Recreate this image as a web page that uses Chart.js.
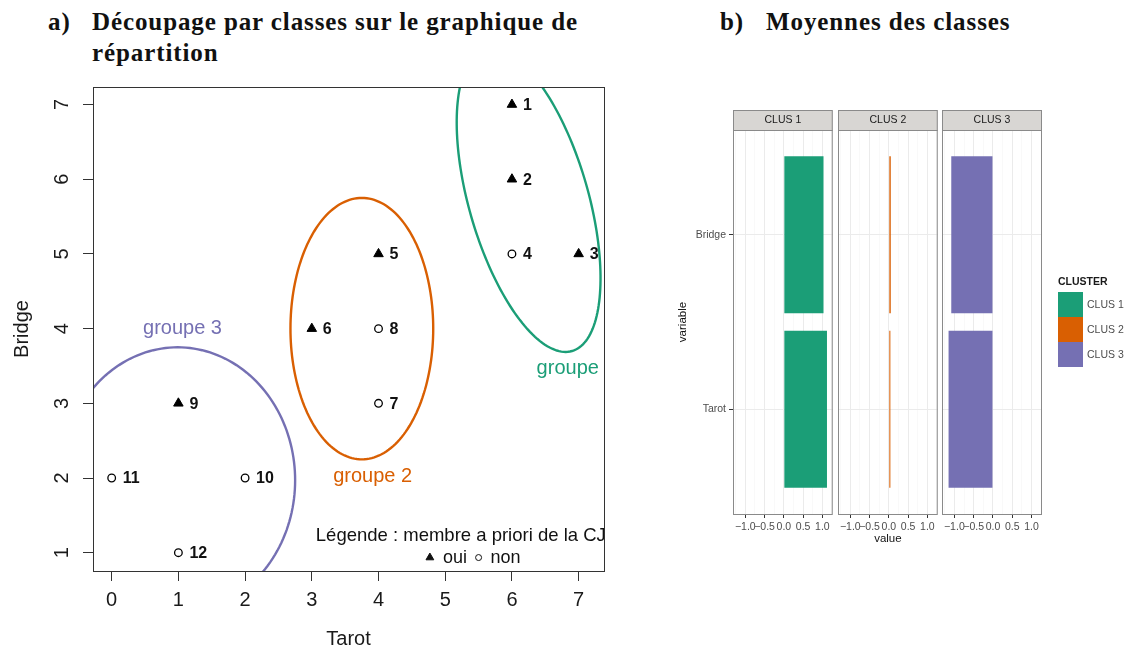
<!DOCTYPE html>
<html>
<head>
<meta charset="utf-8">
<script src="https://cdn.jsdelivr.net/npm/chart.js"></script>
<style>
  body { margin:0; background:#fff; width:1126px; height:649px; position:relative; overflow:hidden; }
  .titre { position:absolute; font-family:"Liberation Serif", serif; font-weight:bold; font-size:25px; line-height:31px; color:#111; letter-spacing:0.9px; }
  canvas { position:absolute; }
</style>
</head>
<body>
<div class="titre" style="left:48px;top:6px;">a)</div>
<div class="titre" style="left:92px;top:6px;">Découpage par classes sur le graphique de<br>répartition</div>
<div class="titre" style="left:720px;top:6px;">b)</div>
<div class="titre" style="left:766px;top:6px;">Moyennes des classes</div>

<canvas id="repartition" width="620" height="649" style="left:0;top:0;"></canvas>
<canvas id="clus1" width="165" height="449" style="left:670px;top:100px;"></canvas>
<canvas id="clus2" width="104" height="449" style="left:836px;top:100px;"></canvas>
<canvas id="clus3" width="186" height="449" style="left:940px;top:100px;"></canvas>

<script>
// joueurs : notes au Tarot et au Bridge, membre a priori de la CJ (1 = oui)
const joueurs  = ['1','2','3','4','5','6','7','8','9','10','11','12'];
const tarot    = [6, 6, 7, 6, 4, 3, 4, 4, 1, 2, 0, 1];
const bridge   = [7, 6, 5, 5, 5, 4, 3, 4, 3, 2, 2, 1];
const membreCJ = [1, 1, 1, 0, 1, 1, 0, 0, 1, 0, 0, 0];

const xTicks = [0, 1, 2, 3, 4, 5, 6, 7];
const yTicks = [1, 2, 3, 4, 5, 6, 7];

// ellipses des groupes : centre + demi-axes conjugués (unités Tarot / Bridge)
const groupes        = ['groupe 1', 'groupe 2', 'groupe 3'];
const couleurs       = ['#1B9E77', '#D95F02', '#7570B3'];
const centres        = [[6.25, 5.72], [3.75, 4.0], [0.99, 1.97]];
const axeU           = [[0.65, -2.02], [0, 1.75], [0, 1.78]];
const axeV           = [[0.86, 0.22], [1.07, 0], [1.76, 0]];
const posEtiquettes  = [[6.37, 3.47], [3.32, 2.02], [0.47, 4.0]];

// moyennes des classes (variables centrées réduites)
const variables = ['Bridge', 'Tarot'];
const classes   = ['CLUS 1', 'CLUS 2', 'CLUS 3'];
const moyClus1  = [1.03, 1.12];
const moyClus2  = [0.05, 0.04];
const moyClus3  = [-1.08, -1.15];
const valueTicks = [-1, -0.5, 0, 0.5, 1];
const valueGrid  = [-1.25, -1, -0.75, -0.5, -0.25, 0, 0.25, 0.5, 0.75, 1, 1.25];

const SANS = 'Liberation Sans';

// ---------- a) graphique de répartition ----------
const points = keep => joueurs
  .map((j, i) => ({x: tarot[i], y: bridge[i], id: j, m: membreCJ[i]}))
  .filter(p => p.m === keep);

const ellipses = {
  id: 'ellipses',
  beforeDatasetsDraw(chart) {
    const {ctx, chartArea: a, scales: {x, y}} = chart;
    ctx.save();
    ctx.beginPath();
    ctx.rect(a.left, a.top, a.right - a.left, a.bottom - a.top);
    ctx.clip();
    groupes.forEach((g, k) => {
      const [cx, cy] = centres[k], [ux, uy] = axeU[k], [vx, vy] = axeV[k];
      ctx.beginPath();
      for (let d = 0; d <= 360; d += 2) {
        const t = d * Math.PI / 180;
        const px = x.getPixelForValue(cx + ux * Math.cos(t) + vx * Math.sin(t));
        const py = y.getPixelForValue(cy + uy * Math.cos(t) + vy * Math.sin(t));
        d === 0 ? ctx.moveTo(px, py) : ctx.lineTo(px, py);
      }
      ctx.closePath();
      ctx.strokeStyle = couleurs[k];
      ctx.lineWidth = 2.4;
      ctx.stroke();
      ctx.fillStyle = couleurs[k];
      ctx.font = '20px ' + SANS;
      ctx.textAlign = 'left';
      ctx.textBaseline = 'middle';
      ctx.fillText(g, x.getPixelForValue(posEtiquettes[k][0]), y.getPixelForValue(posEtiquettes[k][1]));
    });
    // légende
    ctx.fillStyle = '#111';
    ctx.strokeStyle = '#111';
    ctx.font = '18.5px ' + SANS;
    ctx.fillText('Légende : membre a priori de la CJ', x.getPixelForValue(3.06), y.getPixelForValue(1.23));
    ctx.font = '18px ' + SANS;
    const ly = y.getPixelForValue(0.935);
    const tx = x.getPixelForValue(4.77);
    ctx.lineWidth = 1;
    Chart.helpers.drawPoint(ctx, {pointStyle: 'triangle', radius: 4.5, borderWidth: 1}, tx, ly);
    ctx.fillText('oui', tx + 13, ly);
    const cx2 = x.getPixelForValue(5.50);
    ctx.fillStyle = '#fff';
    Chart.helpers.drawPoint(ctx, {pointStyle: 'circle', radius: 3, borderWidth: 1}, cx2, ly);
    ctx.fillStyle = '#111';
    ctx.fillText('non', cx2 + 12, ly);
    ctx.restore();
  }
};

const etiquettes = {
  id: 'etiquettes',
  afterDatasetsDraw(chart) {
    const {ctx} = chart;
    ctx.save();
    ctx.fillStyle = '#111';
    ctx.font = 'bold 16px ' + SANS;
    ctx.textAlign = 'left';
    ctx.textBaseline = 'middle';
    chart.data.datasets.forEach((ds, i) => {
      chart.getDatasetMeta(i).data.forEach((el, j) => {
        ctx.fillText(ds.data[j].id, el.x + 11, el.y + 1);
      });
    });
    ctx.restore();
  }
};

const cadreR = {
  id: 'cadreR',
  afterDraw(chart) {
    const {ctx, chartArea: a, scales: {y}} = chart;
    ctx.save();
    ctx.strokeStyle = '#333';
    ctx.lineWidth = 1;
    ctx.strokeRect(a.left + 0.5, a.top + 0.5, a.right - a.left, a.bottom - a.top);
    // étiquettes de l'axe Bridge, parallèles à l'axe
    ctx.fillStyle = '#1a1a1a';
    ctx.font = '20px ' + SANS;
    ctx.textAlign = 'center';
    ctx.textBaseline = 'middle';
    yTicks.forEach(v => {
      ctx.save();
      ctx.translate(62, y.getPixelForValue(v));
      ctx.rotate(-Math.PI / 2);
      ctx.fillText(String(v), 0, 0);
      ctx.restore();
    });
    ctx.restore();
  }
};

new Chart(document.getElementById('repartition'), {
  type: 'scatter',
  data: {
    datasets: [
      {label: 'oui', data: points(1), pointStyle: 'triangle', pointRadius: 5.5,
       backgroundColor: '#000', borderColor: '#000', borderWidth: 1},
      {label: 'non', data: points(0), pointStyle: 'circle', pointRadius: 3.8,
       backgroundColor: '#fff', borderColor: '#000', borderWidth: 1.3}
    ]
  },
  options: {
    responsive: false, animation: false, devicePixelRatio: 1,
    layout: {padding: {top: 87, right: 16, left: 0, bottom: 0}},
    plugins: {legend: {display: false}, tooltip: {enabled: false}},
    scales: {
      x: {
        type: 'linear', min: -0.28, max: 7.38,
        afterBuildTicks: s => { s.ticks = xTicks.map(v => ({value: v})); },
        afterFit: s => { s.height = 78; },
        grid: {drawOnChartArea: false, tickLength: 10, color: '#333'},
        border: {display: false},
        ticks: {font: {family: SANS, size: 20}, color: '#1a1a1a', padding: 7, maxRotation: 0, autoSkip: false},
        title: {display: true, text: 'Tarot', color: '#1a1a1a',
                font: {family: SANS, size: 20, lineHeight: 1}, padding: {top: 0, bottom: 0}}
      },
      y: {
        type: 'linear', min: 0.755, max: 7.235,
        afterBuildTicks: s => { s.ticks = yTicks.map(v => ({value: v})); },
        afterFit: s => { s.width = 93; },
        grid: {drawOnChartArea: false, tickLength: 10, color: '#333'},
        border: {display: false},
        ticks: {display: false},
        title: {display: true, text: 'Bridge', color: '#1a1a1a',
                font: {family: SANS, size: 20, lineHeight: 1}, padding: {top: 12, bottom: 0}}
      }
    }
  },
  plugins: [ellipses, etiquettes, cadreR]
});

// ---------- b) moyennes des classes ----------
const fmt = v => (v < 0 ? '\u2212' : '') + Math.abs(v).toFixed(1);
const majeur = v => valueTicks.includes(v);

const panneau = {
  id: 'panneau',
  afterDraw(chart) {
    const {ctx, chartArea: a} = chart;
    const k = chart.options.plugins.panneau.k;
    ctx.save();
    ctx.strokeStyle = '#8a8a8a';
    ctx.lineWidth = 1;
    ctx.strokeRect(a.left + 0.5, a.top + 0.5, a.right - a.left - 1, a.bottom - a.top);
    // bandeau de facette
    ctx.fillStyle = '#D8D6D3';
    ctx.fillRect(a.left, a.top - 20, a.right - a.left, 20);
    ctx.strokeRect(a.left + 0.5, a.top - 19.5, a.right - a.left - 1, 20);
    ctx.fillStyle = '#1a1a1a';
    ctx.font = '10.5px ' + SANS;
    ctx.textAlign = 'center';
    ctx.textBaseline = 'middle';
    ctx.fillText(classes[k], (a.left + a.right) / 2, a.top - 9.5);
    // légende CLUSTER
    if (chart.options.plugins.panneau.legende) {
      ctx.textAlign = 'left';
      ctx.font = 'bold 10.5px ' + SANS;
      ctx.fillText('CLUSTER', 118, 182);
      ctx.font = '10.5px ' + SANS;
      classes.forEach((c, i) => {
        ctx.fillStyle = couleurs[i];
        ctx.fillRect(118, 192 + i * 25, 25, 25);
        ctx.fillStyle = '#4D4D4D';
        ctx.fillText(c, 147, 205 + i * 25);
      });
    }
    ctx.restore();
  }
};

function facette(id, k, valeurs, cfg) {
  return new Chart(document.getElementById(id), {
    type: 'bar',
    data: {
      datasets: [{
        label: classes[k],
        data: variables.map((v, i) => ({x: valeurs[i], y: i + 1})),
        backgroundColor: couleurs[k], borderWidth: 0,
        barPercentage: 0.9, categoryPercentage: 1
      }]
    },
    options: {
      indexAxis: 'y', responsive: false, animation: false, devicePixelRatio: 1,
      layout: {padding: {top: 30, left: cfg.gauche, right: cfg.droite, bottom: 0}},
      plugins: {legend: {display: false}, tooltip: {enabled: false},
                panneau: {k: k, legende: !!cfg.legende}},
      scales: {
        x: {
          type: 'linear', min: -1.32, max: 1.27,
          afterBuildTicks: s => { s.ticks = valueGrid.map(v => ({value: v})); },
          afterFit: s => { s.height = 35; },
          grid: {
            color: c => majeur(c.tick.value) ? '#EBEBEB' : '#F5F5F5',
            lineWidth: c => majeur(c.tick.value) ? 1 : 0.6,
            tickColor: c => majeur(c.tick.value) ? '#333' : 'rgba(0,0,0,0)',
            tickLength: 4
          },
          border: {display: false},
          ticks: {autoSkip: false, maxRotation: 0, padding: 3, color: '#4D4D4D',
                  font: {family: SANS, size: 10.5},
                  callback: v => majeur(v) ? fmt(v) : ''},
          title: {display: !!cfg.titre, text: 'value', color: '#111',
                  font: {family: SANS, size: 11.5, lineHeight: 1}, padding: {top: 0, bottom: 4}}
        },
        y: {
          type: 'linear', min: 0.4, max: 2.6, reverse: true, offset: false,
          afterBuildTicks: s => { s.ticks = variables.map((v, i) => ({value: i + 1})); },
          afterFit: s => { s.width = cfg.axeY ? 63 : 0; },
          grid: {offset: false, color: '#EBEBEB', tickColor: '#333', tickLength: 4, drawTicks: !!cfg.axeY},
          border: {display: false},
          ticks: {display: !!cfg.axeY, padding: 3, color: '#4D4D4D',
                  font: {family: SANS, size: 10.5},
                  callback: v => variables[v - 1] || ''},
          title: {display: !!cfg.axeY, text: 'variable', color: '#111',
                  font: {family: SANS, size: 11.5, lineHeight: 1}, padding: {top: 7, bottom: 0}}
        }
      }
    },
    plugins: [panneau]
  });
}

facette('clus1', 0, moyClus1, {gauche: 0, droite: 2, axeY: true});
facette('clus2', 1, moyClus2, {gauche: 2, droite: 2, titre: true});
facette('clus3', 2, moyClus3, {gauche: 2, droite: 84, legende: true});
</script>
</body>
</html>
